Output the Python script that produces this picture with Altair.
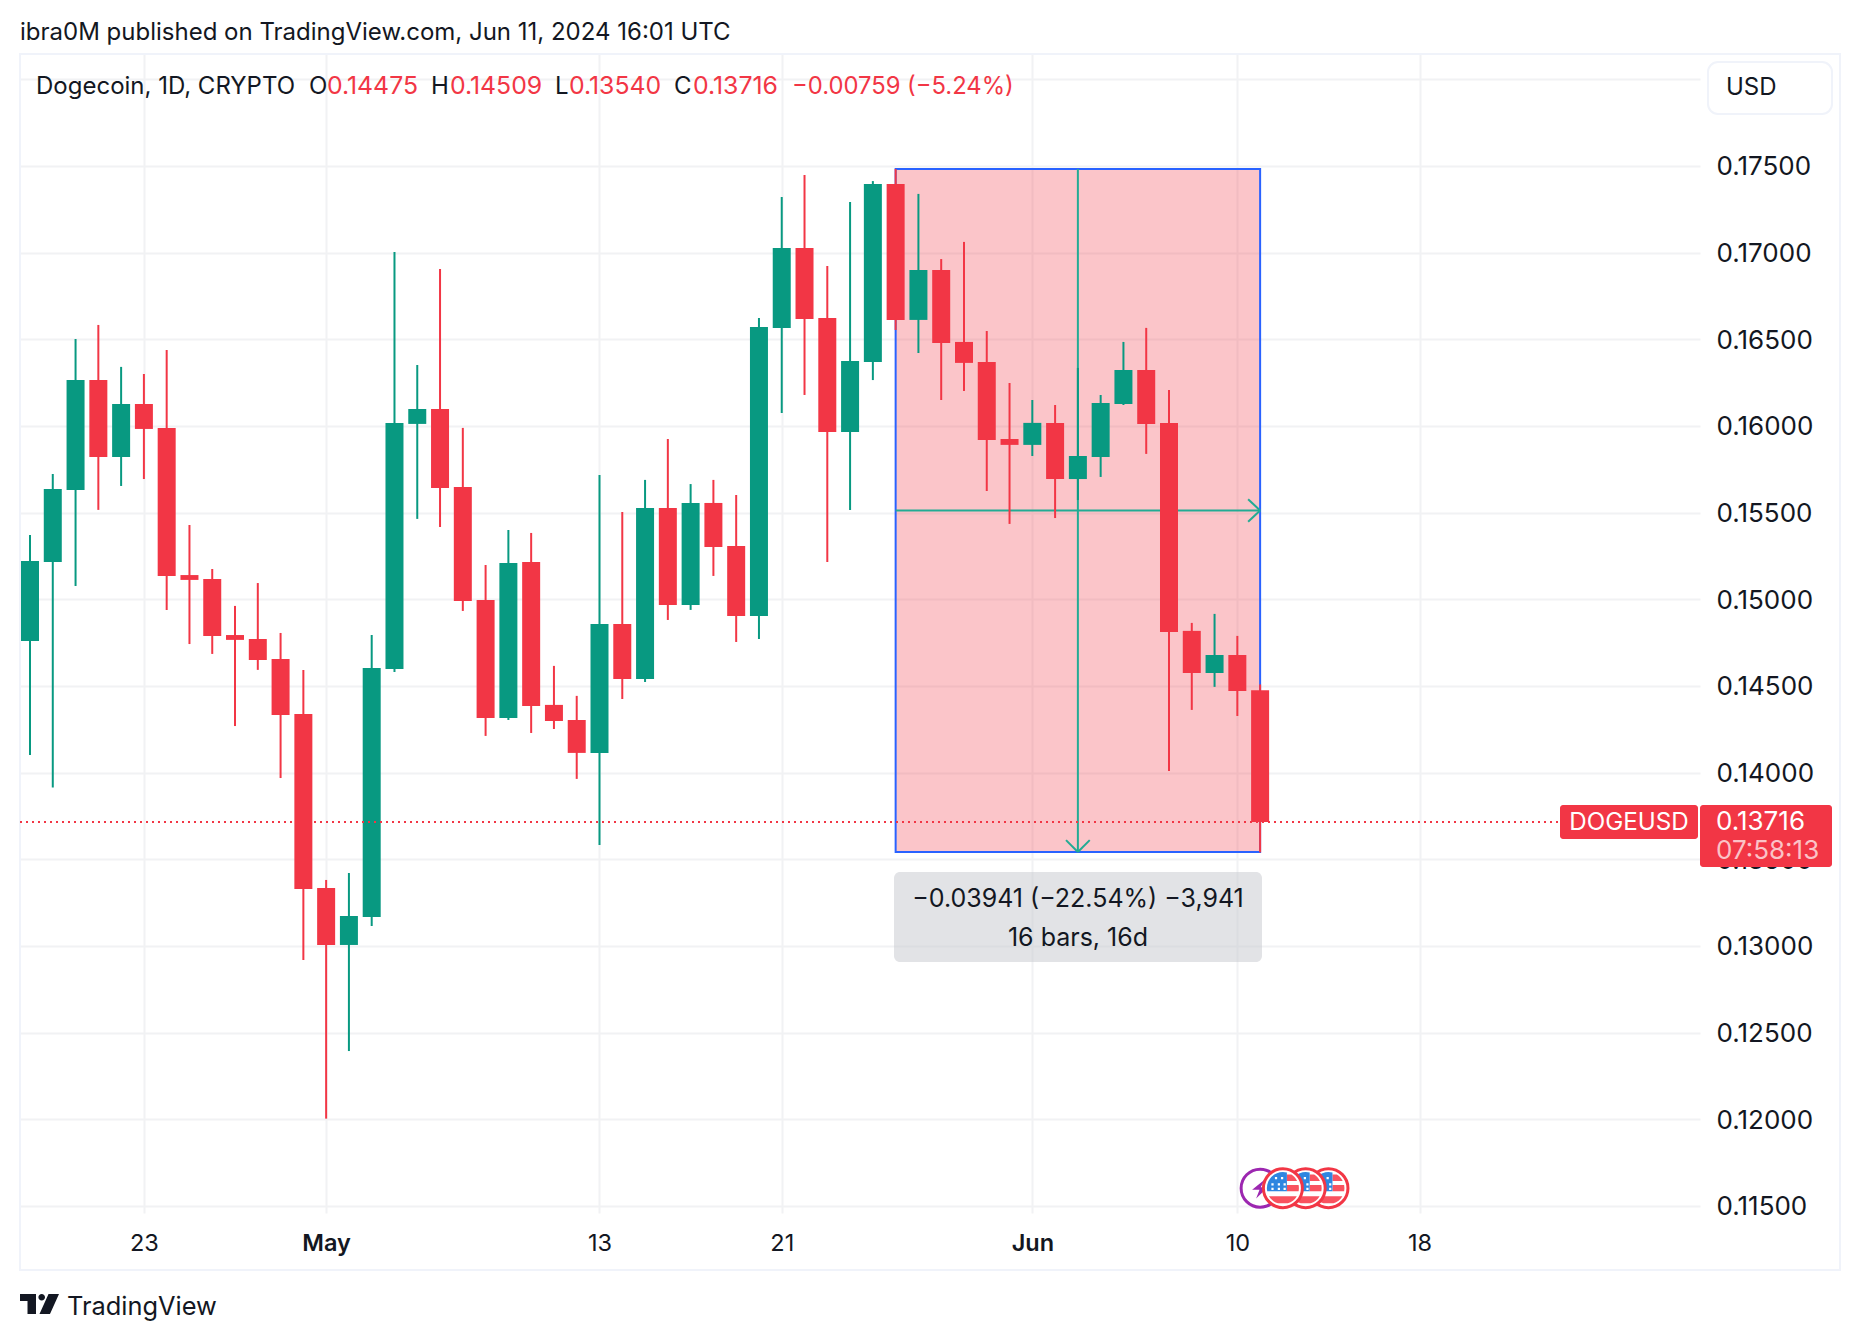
import altair as alt
import pandas as pd

GREEN = "#089981"
RED = "#f23645"
INK = "#131722"
GRID = "#f1f2f4"
FRAME = "#f0f3fa"
FONT = "Inter"

dates = [d.strftime("%Y-%m-%d") for d in pd.date_range("2024-04-18", "2024-06-11")]
opens = [.14760,.15215,.15631,.16265,.15821,.16127,.15989,.15140,.15117,.14794,.14771,.14656,.14339,.13335,.13006,.13168,.14598,.16012,.16098,.15648,.14996,.14316,.15215,.14391,.14304,.14114,.14858,.14541,.15527,.14967,.15556,.15308,.14904,.16566,.17027,.16623,.15966,.16369,.17396,.16612,.16900,.16485,.16369,.15925,.15891,.16018,.15694,.15821,.16127,.16323,.16018,.14818,.14575,.14679,.14475]
highs = [.15371,.15723,.16502,.16583,.16341,.16300,.16439,.15429,.15175,.14962,.15094,.14806,.14593,.13381,.13421,.14794,.17004,.16352,.16906,.15989,.15198,.15400,.15383,.14616,.14443,.15717,.15504,.15689,.15925,.15665,.15689,.15602,.16623,.17321,.17448,.16923,.17292,.17413,.17483,.17339,.16963,.17062,.16548,.16248,.16150,.16121,.16335,.16179,.16485,.16566,.16208,.14864,.14916,.14789,.14509]
lows = [.14102,.13915,.15077,.15516,.15654,.15694,.14939,.14742,.14685,.14269,.14593,.13969,.12919,.12004,.12394,.13116,.14581,.15464,.15417,.14933,.14212,.14304,.14229,.14252,.13964,.13583,.14425,.14523,.14881,.14939,.15135,.14754,.14771,.16075,.16179,.15215,.15516,.16265,.16554,.16421,.16150,.16202,.15625,.15435,.15827,.15469,.15573,.15706,.16121,.15839,.14010,.14362,.14495,.14327,.13540]
closes = [.15221,.15637,.16265,.15821,.16127,.15983,.15135,.15112,.14789,.14766,.14650,.14333,.13329,.13006,.13173,.14604,.16018,.16098,.15642,.14991,.14316,.15210,.14385,.14298,.14114,.14858,.14541,.15527,.14967,.15556,.15302,.14904,.16571,.17027,.16617,.15966,.16375,.17396,.16612,.16900,.16479,.16364,.15919,.15891,.16018,.15694,.15827,.16133,.16323,.16012,.14812,.14575,.14679,.14471,.13716]

price_ticks = [.115,.12,.125,.13,.135,.14,.145,.15,.155,.16,.165,.17,.175,.18]
date_ticks = ["2024-04-23","2024-05-01","2024-05-13","2024-05-21","2024-06-01","2024-06-10","2024-06-18"]
measure_start, measure_end, measure_mid = "2024-05-26", "2024-06-11", "2024-06-03"
measure_top, measure_bottom, measure_midprice = .17483, .13542, .155125
last_price = .13716
lightning_date = "2024-06-11"
flag_dates = ["2024-06-14", "2024-06-13", "2024-06-12"]
icon_price = .11603


def ms(s):
    return int(pd.Timestamp(s, tz="UTC").value // 10**6)


x_scale = alt.Scale(type="utc", domain=[ms("2024-04-17T13:27:50"), ms("2024-06-30T07:26:24")], nice=False, padding=0)
y_scale = alt.Scale(type="linear", domain=[.114596, .181519], nice=False, zero=False)

x_axis = alt.Axis(
    values=[ms(d) for d in date_ticks],
    labelExpr="utcdate(datum.value)==1 ? utcFormat(datum.value,'%b') : utcFormat(datum.value,'%d')",
    labelFontWeight={"condition": {"test": "utcdate(datum.value)==1", "value": 600}, "value": 400},
    grid=True, gridColor=GRID, gridWidth=2, domain=False, ticks=False,
    labelPadding=18, labelFontSize=23.5, labelFont=FONT, labelColor=INK, labelAngle=0,
    labelOverlap=False, labelFlush=False, labelBound=False, title=None,
)
y_axis = alt.Axis(
    orient="right", values=price_ticks, format=".5f",
    grid=True, gridColor=GRID, gridWidth=2, domain=False, ticks=False,
    labelPadding=16, labelOffset=1, labelFontSize=26, labelFont=FONT, labelColor=INK,
    labelOverlap=False, labelFlush=False, labelBound=False, title=None,
)


def X(f):
    return alt.X(f, type="temporal", scale=x_scale, axis=x_axis)


def Y(f):
    return alt.Y(f, type="quantitative", scale=y_scale, axis=y_axis)


candles = pd.DataFrame({"d": dates, "o": opens, "h": highs, "l": lows, "c": closes})
candles["dir"] = ["up" if c >= o else "down" for o, c in zip(opens, closes)]
color = alt.Color("dir:N", scale=alt.Scale(domain=["up", "down"], range=[GREEN, RED]), legend=None)

one = alt.Data(values=[{"a": 1}])


def box(x, x2, y, y2, **kw):
    return alt.Chart(one).mark_rect(**kw).encode(
        x=alt.value(x - 20), x2=alt.value(x2 - 20), y=alt.value(y - 53), y2=alt.value(y2 - 53))


def label(s, x, y, size=24, col=INK, align="left", weight=400, **kw):
    return alt.Chart(one).mark_text(
        text=s, font=FONT, fontSize=size, color=col, align=align, baseline="middle", fontWeight=weight, **kw
    ).encode(x=alt.value(x - 20), y=alt.value(y - 53))


frame = box(20, 1840, 54, 1270, fill="#ffffff", fillOpacity=0, stroke=FRAME, strokeWidth=2)

measure = alt.Chart(alt.Data(values=[{
    "d": measure_start, "d2": measure_end, "t": measure_top, "b": measure_bottom}])).mark_rect(
    fill=RED, fillOpacity=0.29, stroke="#2962ff", strokeWidth=2).encode(
    x=X("d"), x2=alt.X2("d2"), y=Y("t"), y2=alt.Y2("b"))

arrow_rows = [
    {"d": measure_start, "d2": measure_end, "p": measure_midprice, "p2": measure_midprice},
    {"d": measure_mid, "d2": measure_mid, "p": measure_top, "p2": measure_bottom},
    {"d": "2024-06-10T11:22:00Z", "d2": measure_end, "p": measure_midprice + .00065, "p2": measure_midprice},
    {"d": "2024-06-10T11:22:00Z", "d2": measure_end, "p": measure_midprice - .00065, "p2": measure_midprice},
    {"d": "2024-06-03T12:30:00Z", "d2": measure_mid, "p": measure_bottom + .00069, "p2": measure_bottom},
    {"d": "2024-06-02T11:30:00Z", "d2": measure_mid, "p": measure_bottom + .00069, "p2": measure_bottom},
]
arrows = alt.Chart(alt.Data(values=arrow_rows)).mark_rule(color="#22ab94", strokeWidth=2).encode(
    x=X("d"), x2=alt.X2("d2"), y=Y("p"), y2=alt.Y2("p2"))

wicks = alt.Chart(candles).mark_rule(strokeWidth=2).encode(x=X("d"), y=Y("h"), y2=alt.Y2("l"), color=color)
bodies = alt.Chart(candles).mark_bar(size=18, orient="vertical").encode(x=X("d"), y=Y("o"), y2=alt.Y2("c"), color=color)

last_line = alt.Chart(alt.Data(values=[{"p": last_price}])).mark_rule(
    color=RED, strokeWidth=2, strokeDash=[2, 4]).encode(
    y=Y("p"), x=alt.value(0), x2=alt.value(1540))

tip = box(894, 1262, 872, 962, fill="#c8cad0", fillOpacity=0.52, cornerRadius=6)
tip1 = label("\u22120.03941 (\u221222.54%) \u22123,941", 1078, 899, size=25, align="center")
tip2 = label("16 bars, 16d", 1078, 938, size=25, align="center")

chip_sym = box(1560, 1698, 805, 839, fill=RED, cornerRadius=3)
chip_px = box(1700, 1832, 805, 867, fill=RED, cornerRadius=3)
chip_t1 = label("DOGEUSD", 1629, 823, size=24.2, col="#ffffff", align="center")
chip_t2 = label("0.13716", 1716, 822, size=26, col="#ffffff")
chip_t3 = label("07:58:13", 1716, 851, size=26, col="#fbc3c7")

usd_box = box(1708, 1832, 62, 114, fill="#ffffff", stroke=FRAME, strokeWidth=2, cornerRadius=10)
usd_txt = label("USD", 1726, 88)

header = label("ibra0M published on TradingView.com, Jun 11, 2024 16:01 UTC", 20, 33)
legend = [
    label("Dogecoin, 1D, CRYPTO", 36, 87),
    label("O", 309, 87), label("0.14475", 327, 87, size=24.8, col=RED),
    label("H", 431, 87), label("0.14509", 450, 87, size=24.8, col=RED),
    label("L", 555, 87), label("0.13540", 569, 87, size=24.8, col=RED),
    label("C", 674, 87), label("0.13716", 693, 87, size=24.8, col=RED),
    label("\u22120.00759 (\u22125.24%)", 792, 87, size=23.8, col=RED),
]

LOGO = ("M-1,-.513L-.18,-.513L-.18,.513L-.615,.513L-.615,-.154L-1,-.154Z"
        "M-.057,-.344A.17,.17 0 1 0 .283,-.344A.17,.17 0 1 0 -.057,-.344Z"
        "M.462,-.513L1,-.513L.538,.513L0,.513Z")
logo = alt.Chart(one).mark_point(shape=LOGO, size=39 ** 2, filled=True, fill=INK, opacity=1, strokeWidth=0).encode(
    x=alt.value(39.5 - 20), y=alt.value(1304 - 53))
brand = label("TradingView", 67, 1307, size=25.4)

CANTON = "M-.98,.2L.25,.2L.25,-.97A1,1 0 0 0 -.98,.2Z"
STRIPES = ("M.25,-.85L.53,-.85A1,1 0 0 1 .89,-.45L.25,-.45Z"
           "M.25,-.2L.98,-.2A1,1 0 0 1 .98,.2L.25,.2Z"
           "M-.87,.5L.87,.5A1,1 0 0 1 .31,.95L-.31,.95A1,1 0 0 1 -.87,.5Z")
STARS = "".join(f"M{x},{y}h.14v.14h-.14Z" for x, y in
                [(-.5, -.7), (-.12, -.7), (-.72, -.3), (-.32, -.3), (.04, -.3), (-.72, -.02), (-.32, -.02), (.04, -.02)])
BOLT = "M.25,-.45L-.4,.08L-.03,.08L-.2,.52L.38,-.05L.03,-.05Z"


def icon(date, shape, size, **kw):
    return alt.Chart(alt.Data(values=[{"d": date, "p": icon_price}])).mark_point(
        shape=shape, size=size, opacity=1, **kw).encode(x=X("d"), y=Y("p"))


icons = [
    icon(lightning_date, "circle", 38 ** 2, fill="#ffffff", filled=True, stroke="#9c27b0", strokeWidth=3),
    icon(lightning_date, BOLT, 40 ** 2, filled=True, fill="#9c27b0", strokeWidth=0),
]
for fd in flag_dates:
    icons += [
        icon(fd, "circle", 39 ** 2, fill="#ffffff", filled=True, stroke=RED, strokeWidth=3),
        icon(fd, STRIPES, 32 ** 2, filled=True, fill="#f9525f", strokeWidth=0),
        icon(fd, CANTON, 32 ** 2, filled=True, fill="#2f86e0", strokeWidth=0),
        icon(fd, STARS, 32 ** 2, filled=True, fill="#ffffff", strokeWidth=0),
    ]

chart = alt.layer(
    frame, measure, arrows, wicks, bodies, last_line, tip, tip1, tip2, *icons,
    chip_sym, chip_px, chip_t1, chip_t2, chip_t3, usd_box, usd_txt, header, *legend, logo, brand,
).properties(
    width=1680, height=1160,
    padding={"left": 12, "top": 45, "right": 152, "bottom": 119},
    autosize=alt.AutoSizeParams(type="none"),
    background="#ffffff",
).configure_view(stroke=None)

chart.save("out.html", embed_options={"renderer": "svg", "actions": False})
